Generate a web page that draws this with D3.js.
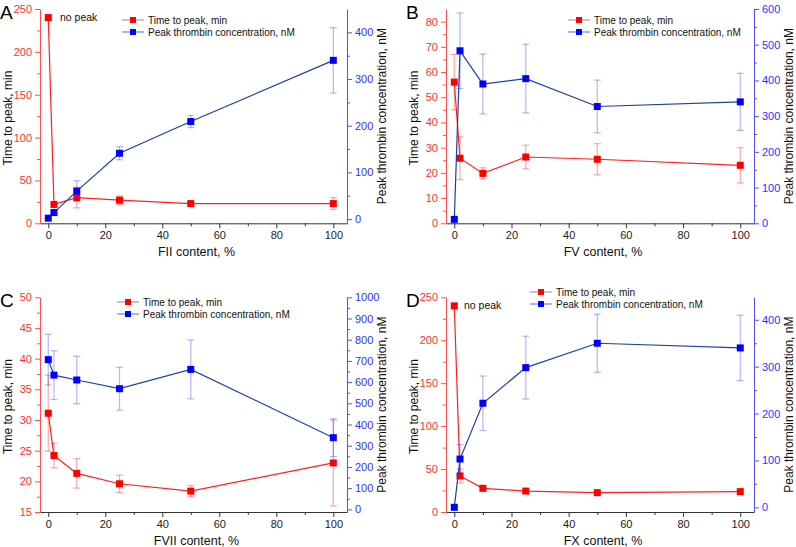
<!DOCTYPE html>
<html><head><meta charset="utf-8">
<script src="https://cdn.jsdelivr.net/npm/d3@7"></script>
<style>body{margin:0;background:#fff}svg{display:block;font-family:"Liberation Sans",Arial,sans-serif}</style>
</head><body><svg id="c" width="796" height="547"></svg>
<script>
const xVals = [0, 2, 10, 25, 50, 100];
const xTicks = [0, 20, 40, 60, 80, 100];

const fiiTime = [240, 22, 30, 27, 23, 23];
const fiiTimeErr = [0, 0, 12, 5, 2, 7];
const fiiPeak = [2, 14, 60, 141, 209, 340];
const fiiPeakErr = [0, 4, 22, 14, 13, 70];

const fvTime = [56, 25.8, 19.8, 26.3, 25.4, 23];
const fvTimeErr = [11, 8.5, 2.2, 4.7, 6.2, 7];
const fvPeak = [11, 483, 390, 405, 327, 340];
const fvPeakErr = [0, 106, 84, 96, 74, 80];

const fviiTime = [31.1, 24.2, 21.3, 19.6, 18.4, 23.0];
const fviiTimeErr = [6.2, 2, 2.4, 1.4, 0.9, 7];
const fviiPeak = [706, 633, 610, 569, 660, 338];
const fviiPeakErr = [120, 115, 112, 101, 139, 89];

const fxTime = [240, 42, 27.6, 24.4, 22.5, 23.7];
const fxTimeErr = [0, 8, 3, 2, 2, 3];
const fxPeak = [0, 103, 222, 298, 350, 340];
const fxPeakErr = [0, 31, 58, 67, 62, 70];

const panelLetters = ["A", "B", "C", "D"];
const xTitles = ["FII content, %", "FV content, %", "FVII content, %", "FX content, %"];
const leftTitle = "Time to peak, min";
const rightTitle = "Peak thrombin concentration, nM";
const legendLabels = ["Time to peak, min", "Peak thrombin concentration, nM"];
const noPeakLabel = "no peak";

const RED = "#ff0000", BLUE = "#0000ff";
const svg = d3.select("#c");
const fmt = d3.format("d");

const panels = [
  {letter:panelLetters[0], xt:xTitles[0], time:fiiTime, te:fiiTimeErr, peak:fiiPeak, pe:fiiPeakErr,
   L:40, R:347, T:9, B:223.3, ld:[0,250], lt:d3.range(0,251,50), lm:d3.range(25,250,50),
   rd:[-9,450], rt:d3.range(0,401,100), rm:d3.range(50,450,100), noPeak:true, leg:[122,20], np:[60,17]},
  {letter:panelLetters[1], xt:xTitles[1], time:fvTime, te:fvTimeErr, peak:fvPeak, pe:fvPeakErr,
   L:446, R:754, T:9, B:223.3, ld:[0,85], lt:d3.range(0,81,10), lm:d3.range(5,85,10),
   rd:[0,600], rt:d3.range(0,601,100), rm:d3.range(50,600,100), noPeak:false, leg:[568,20]},
  {letter:panelLetters[2], xt:xTitles[2], time:fviiTime, te:fviiTimeErr, peak:fviiPeak, pe:fviiPeakErr,
   L:40, R:347, T:297.3, B:512, ld:[15,50], lt:d3.range(15,51,5), lm:d3.range(17.5,50,5),
   rd:[-12.5,1000], rt:d3.range(0,1001,100), rm:d3.range(50,1000,100), noPeak:false, leg:[117,302]},
  {letter:panelLetters[3], xt:xTitles[3], time:fxTime, te:fxTimeErr, peak:fxPeak, pe:fxPeakErr,
   L:446, R:754, T:297.3, B:512, ld:[0,250], lt:d3.range(0,251,50), lm:d3.range(25,250,50),
   rd:[-10,448], rt:d3.range(0,401,100), rm:d3.range(50,450,100), noPeak:true, leg:[530,292], np:[464,305]}
];

panels.forEach(p => {
  const g = svg.append("g");
  const x = d3.scaleLinear().domain([-2.9, 104.8]).range([p.L, p.R]);
  const yl = d3.scaleLinear().domain(p.ld).range([p.B, p.T]);
  const yr = d3.scaleLinear().domain(p.rd).range([p.B, p.T]);

  // x axis
  const xa = g.append("g").attr("transform", `translate(0,${p.B})`)
    .call(d3.axisBottom(x).tickValues(xTicks).tickSize(5).tickSizeOuter(0).tickPadding(3).tickFormat(fmt));
  xa.select(".domain").attr("stroke", "#333");
  xa.selectAll(".tick line").attr("stroke", "#333");
  xa.selectAll("text").attr("font-size", 11).attr("fill", "#222").attr("font-family", "Liberation Sans, Arial");
  g.append("g").attr("transform", `translate(0,${p.B})`)
    .call(d3.axisBottom(x).tickValues(d3.range(10, 100, 20)).tickSize(3).tickFormat(""))
    .call(s => { s.select(".domain").remove(); s.selectAll("line").attr("stroke", "#333"); });

  // left axis
  const la = g.append("g").attr("transform", `translate(${p.L},0)`)
    .call(d3.axisLeft(yl).tickValues(p.lt).tickSize(5).tickSizeOuter(0).tickPadding(3).tickFormat(fmt));
  la.select(".domain").attr("stroke", "#ff5050");
  la.selectAll(".tick line").attr("stroke", "#ff5050");
  la.selectAll("text").attr("font-size", 11).attr("fill", "#ff3030").attr("font-family", "Liberation Sans, Arial");
  g.append("g").attr("transform", `translate(${p.L},0)`)
    .call(d3.axisLeft(yl).tickValues(p.lm).tickSize(3).tickFormat(""))
    .call(s => { s.select(".domain").remove(); s.selectAll("line").attr("stroke", "#ff5050"); });

  // right axis
  const ra = g.append("g").attr("transform", `translate(${p.R},0)`)
    .call(d3.axisRight(yr).tickValues(p.rt).tickSize(5).tickSizeOuter(0).tickPadding(3).tickFormat(fmt));
  ra.select(".domain").attr("stroke", "#5050ff");
  ra.selectAll(".tick line").attr("stroke", "#5050ff");
  ra.selectAll("text").attr("font-size", 11).attr("fill", "#3030ff").attr("font-family", "Liberation Sans, Arial");
  g.append("g").attr("transform", `translate(${p.R},0)`)
    .call(d3.axisRight(yr).tickValues(p.rm).tickSize(3).tickFormat(""))
    .call(s => { s.select(".domain").remove(); s.selectAll("line").attr("stroke", "#5050ff"); });

  // titles
  const cy = (p.T + p.B) / 2;
  g.append("text").attr("transform", `translate(${p.L - 28},${cy + 2}) rotate(-90)`)
    .attr("text-anchor", "middle").attr("font-size", 12).attr("fill", "#111").text(leftTitle);
  g.append("text").attr("transform", `translate(${p.R + 38.5},${cy}) rotate(-90)`)
    .attr("text-anchor", "middle").attr("font-size", 12).attr("fill", "#111").text(rightTitle);
  g.append("text").attr("x", (p.L + p.R) / 2 + 3).attr("y", p.B + 32.5)
    .attr("text-anchor", "middle").attr("font-size", 12.5).attr("fill", "#111").text(p.xt);
  g.append("text").attr("x", p.L - 40).attr("y", p.T + 10).attr("font-size", 19).attr("fill", "#000").text(p.letter);

  // series
  const series = [
    {v:p.time, e:p.te, y:yl, c:RED, line:"#ff2020", err:"rgba(255,0,0,0.35)"},
    {v:p.peak, e:p.pe, y:yr, c:BLUE, line:"#1d3fa6", err:"rgba(40,40,255,0.35)"}
  ];
  series.forEach(s => {
    const pts = xVals.map((xv, i) => ({x:xv, v:s.v[i], e:s.e[i]}));
    pts.filter(d => d.e > 0).forEach(d => {
      const X = x(d.x), y1 = s.y(d.v + d.e), y2 = s.y(d.v - d.e);
      g.append("line").attr("x1", X).attr("x2", X).attr("y1", y1).attr("y2", y2).attr("stroke", s.err).attr("stroke-width", 1.2);
      [y1, y2].forEach(yy => g.append("line").attr("x1", X - 3.5).attr("x2", X + 3.5).attr("y1", yy).attr("y2", yy).attr("stroke", s.err).attr("stroke-width", 1.2));
    });
    g.append("path").datum(pts).attr("fill", "none").attr("stroke", s.line).attr("stroke-width", 1.2)
      .attr("d", d3.line().x(d => x(d.x)).y(d => s.y(d.v)));
    g.selectAll(null).data(pts).enter().append("rect")
      .attr("x", d => x(d.x) - 3.5).attr("y", d => s.y(d.v) - 3.5).attr("width", 7).attr("height", 7).attr("fill", s.c);
  });

  if (p.noPeak) {
    g.append("text").attr("x", p.np[0]).attr("y", p.np[1] + 4).attr("font-size", 10.5).attr("fill", "#111").text(noPeakLabel);
  }

  // legend
  const lx = p.leg[0], ly = p.leg[1];
  [["#a0a0a0", RED, legendLabels[0]], ["#7080e0", BLUE, legendLabels[1]]].forEach((it, i) => {
    const yy = ly + i * 12;
    g.append("line").attr("x1", lx).attr("x2", lx + 22).attr("y1", yy).attr("y2", yy).attr("stroke", it[0]).attr("stroke-width", 1.2);
    g.append("rect").attr("x", lx + 11 - 3).attr("y", yy - 3).attr("width", 6).attr("height", 6).attr("fill", it[1]);
    g.append("text").attr("x", lx + 26).attr("y", yy + 3.5).attr("font-size", 10).attr("fill", "#111").text(it[2]);
  });
});
</script></body></html>
